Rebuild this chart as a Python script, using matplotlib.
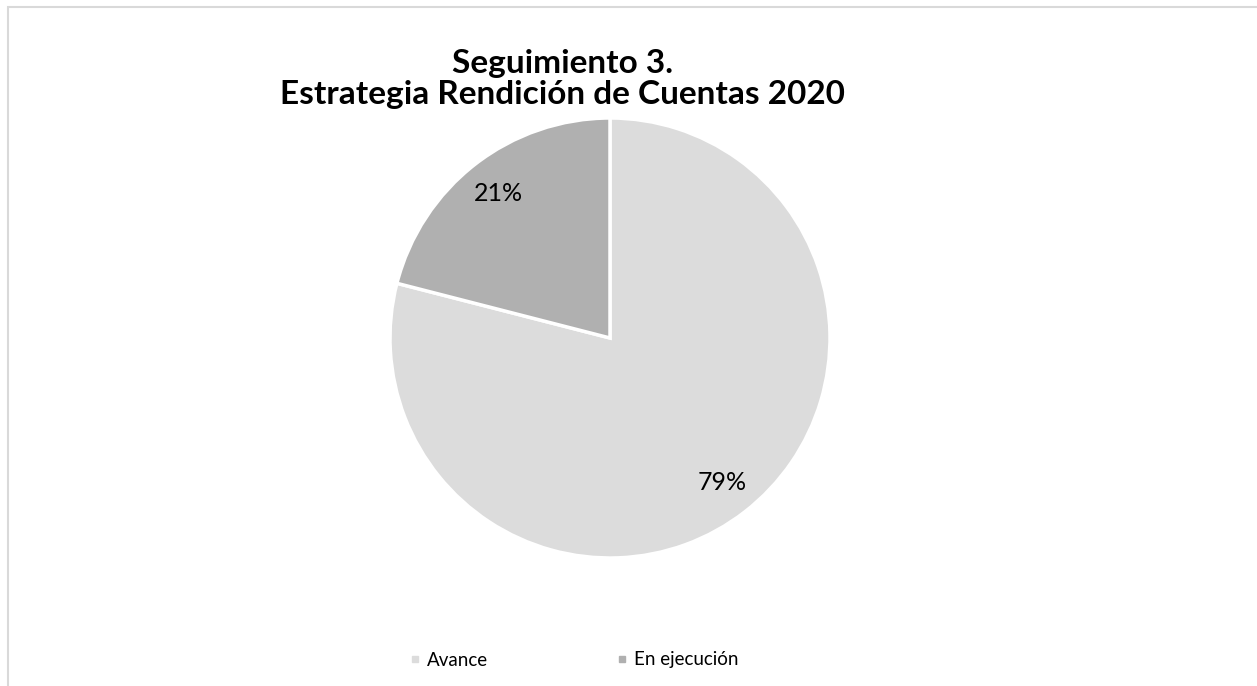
import matplotlib.pyplot as plt
from matplotlib.patches import Rectangle
from matplotlib.lines import Line2D

# data
labels = ["Avance", "En ejecución"]
values = [79, 21]
colors = ["#DCDCDC", "#B0B0B0"]
title = "Seguimiento 3.\nEstrategia Rendición de Cuentas 2020"

W, H = 1257, 686
fig = plt.figure(figsize=(W / 100, H / 100), dpi=100)
ax = fig.add_axes([0, 0, 1, 1])
ax.set_xlim(0, W)
ax.set_ylim(0, H)
ax.set_aspect("equal")
ax.axis("off")

# chart area border (cropped at right and bottom)
ax.add_patch(Rectangle((7.5, -20), W + 50, H - 6.5 + 20, fill=False,
                       edgecolor="#D9D9D9", linewidth=1.5))

wedges, texts, autotexts = ax.pie(
    values, colors=colors, startangle=90, counterclock=False,
    center=(610, H - 338), radius=220,
    autopct=lambda p: f"{p:.0f}%", pctdistance=0.83,
    wedgeprops=dict(edgecolor="white", linewidth=2.5),
    textprops=dict(fontsize=18, fontfamily="Lato", color="black"),
)
ax.set_xlim(0, W)
ax.set_ylim(0, H)

fig.text(562 / W, 1 - 79 / H, title, ha="center", va="center",
         fontsize=24, fontweight="bold", fontfamily="Lato",
         linespacing=1.1)

handles = [Line2D([], [], marker="s", linestyle="none", markersize=5,
                  markerfacecolor=c, markeredgecolor=c) for c in colors]
fig.legend(handles, labels, loc="center", bbox_to_anchor=(572 / W, 1 - 660 / H),
           ncol=2, frameon=False, handlelength=1.0, handletextpad=0.15,
           columnspacing=6.6, prop=dict(family="Lato", size=13.5))

fig.savefig("out.png", dpi=100)
